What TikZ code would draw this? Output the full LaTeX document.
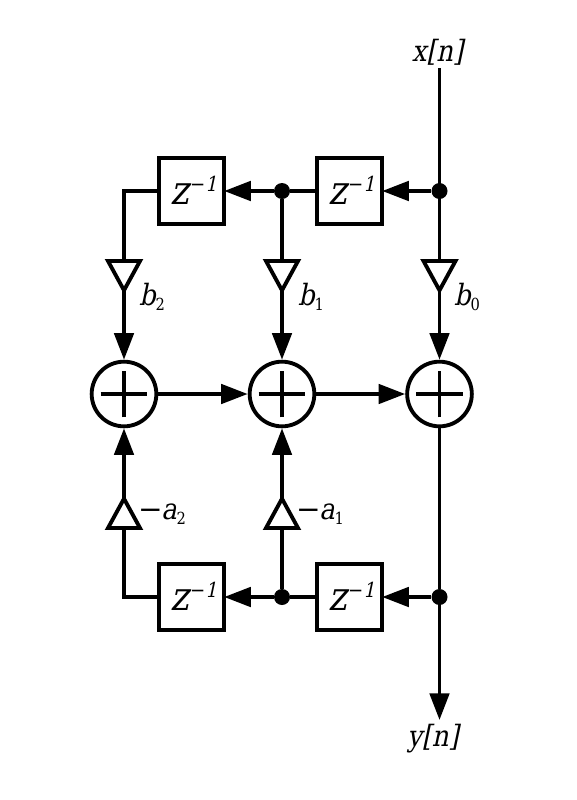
\documentclass[tikz,border=0pt]{standalone}
\usepackage{fontspec}
\setmainfont{DejaVu Serif}
\newfontfamily\slfont[FakeSlant=0.21,FakeStretch=0.88]{DejaVu Serif}
\newfontfamily\upfont[FakeStretch=0.88]{DejaVu Serif}
\newfontfamily\minusfont{DejaVu Serif}
\usetikzlibrary{shapes.geometric,arrows.meta}
\newcommand{\zinv}{\fontsize{30pt}{30pt}\slfont z\kern0.5pt\raisebox{9.5pt}{\fontsize{15.5pt}{16pt}\upfont−\slfont 1}}
\newcommand{\lab}[2]{{\fontsize{22pt}{22pt}\slfont #1\raisebox{-3.5pt}{\fontsize{12.5pt}{14pt}\upfont #2}}}
\tikzset{
  wire/.style={line width=2.9pt,line join=miter},
  arrowwire/.style={wire,-{Triangle[length=20pt,width=14.5pt]}},
  delay/.style={draw,line width=2.9pt,minimum size=49pt,inner sep=0pt,outer sep=0pt,fill=white},
  adder/.style={circle,draw,line width=2.9pt,minimum size=48.5pt,inner sep=0pt,fill=white},
  joint/.style={circle,fill=black,minimum size=12pt,inner sep=0pt},
  gainbase/.style={isosceles triangle,isosceles triangle stretches,draw,line width=2.9pt,
     minimum height=22pt,minimum width=24pt,inner sep=0pt,outer sep=0pt,anchor=lower side},
  gaindown/.style={gainbase,shape border rotate=-90},
  gainup/.style={gainbase,shape border rotate=90},
  txt/.style={inner sep=0pt,outer sep=0pt},
}
\begin{document}
\begin{tikzpicture}[x=0.75pt,y=-0.75pt]
\useasboundingbox (0,0) rectangle (576,800);
\fill[white] (0,0) rectangle (576,800);
% nodes
\node[delay] (zt2) at (191.5,191) {};
\node[delay] (zt1) at (349.5,191) {};
\node[delay] (zb2) at (191.5,597) {};
\node[delay] (zb1) at (349.5,597) {};
\node[txt] (lzt2) at (194,190) {\zinv};
\node[txt] (lzt1) at (352,190) {\zinv};
\node[txt] (lzb2) at (194,596) {\zinv};
\node[txt] (lzb1) at (352,596) {\zinv};
\node[adder] (s2) at (124,394) {};
\node[adder] (s1) at (282,394) {};
\node[adder] (s0) at (439.5,394) {};
\node[joint] (jt1) at (282,191) {};
\node[joint] (jt0) at (439.5,191) {};
\node[joint] (jb1) at (282,597) {};
\node[joint] (jb0) at (439.5,597) {};
\node[gaindown] (b2) at (124,261) {};
\node[gaindown] (b1) at (282,261) {};
\node[gaindown] (b0) at (439.5,261) {};
\node[gainup] (a2) at (124,528) {};
\node[gainup] (a1) at (282,528) {};
\coordinate (xin) at (439.5,68);
\coordinate (yout) at (439.5,720);
% connectors
\draw[wire] (xin) -- (b0.lower side);
\draw[arrowwire] (jt0) -- (zt1.east);
\draw[wire] (zt1.west) -- (jt1);
\draw[arrowwire] (jt1) -- (zt2.east);
\draw[wire] (zt2.west) -| (b2.lower side);
\draw[wire] (jt1) -- (b1.lower side);
\draw[arrowwire] (b2.apex) -- (s2.north);
\draw[arrowwire] (b1.apex) -- (s1.north);
\draw[arrowwire] (b0.apex) -- (s0.north);
\draw[arrowwire] (s2.east) -- (s1.west);
\draw[arrowwire] (s1.east) -- (s0.west);
\draw[arrowwire] (a2.apex) -- (s2.south);
\draw[arrowwire] (a1.apex) -- (s1.south);
\draw[wire] (s0.south) -- (jb0);
\draw[arrowwire] (jb0) -- (yout);
\draw[arrowwire] (jb0) -- (zb1.east);
\draw[wire] (zb1.west) -- (jb1);
\draw[arrowwire] (jb1) -- (zb2.east);
\draw[wire] (zb2.west) -| (a2.lower side);
\draw[wire] (jb1) -- (a1.lower side);
% adder crosses
\foreach \s in {s2,s1,s0}{
  \draw[wire] ([xshift=-17.5pt]\s.center) -- ([xshift=17.5pt]\s.center);
  \draw[wire] ([yshift=-17.5pt]\s.center) -- ([yshift=17.5pt]\s.center);
}
% labels
\node[txt] (lx) at (437.5,52) {\fontsize{22pt}{22pt}\slfont x[n]};
\node[txt] (ly) at (433,739) {\fontsize{22pt}{22pt}\slfont y[n]};
\node[txt] (lb2) at (152,297) {\lab{b}{2}};
\node[txt] (lb1) at (311,297) {\lab{b}{1}};
\node[txt] (lb0) at (467,297) {\lab{b}{0}};
\node[txt] (la2) at (162,514) {\lab{{\minusfont\fontsize{22pt}{22pt}\selectfont−}\kern-1pt a}{2}};
\node[txt] (la1) at (320,514) {\lab{{\minusfont\fontsize{22pt}{22pt}\selectfont−}\kern-1pt a}{1}};
\end{tikzpicture}
\end{document}
